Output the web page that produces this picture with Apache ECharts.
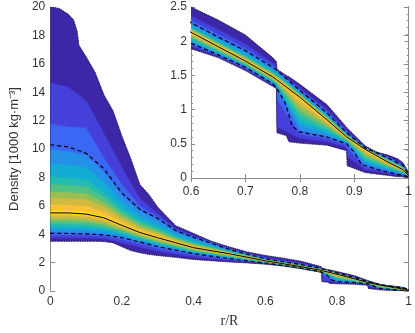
<!DOCTYPE html>
<html><head><meta charset="utf-8">
<script src="https://cdn.jsdelivr.net/npm/echarts@6/dist/echarts.min.js"></script>
<style>html,body{margin:0;padding:0;background:#fff}#c{width:415px;height:333px}</style>
</head><body><div id="c"></div>
<script>
// outer envelope of the density distribution (finer r/R grid)
const outerR = [0, 0.025, 0.05, 0.065, 0.075, 0.08, 0.1, 0.125, 0.15, 0.175, 0.2, 0.225, 0.25, 0.275, 0.3, 0.35, 0.4, 0.45, 0.5, 0.55, 0.6, 0.65, 0.7, 0.75, 0.757, 0.758, 0.775, 0.78, 0.8, 0.85, 0.886, 0.887, 0.92, 0.94, 0.96, 0.98, 0.99, 1.0];
const outerUpper = [20, 19.9, 19.5, 19.1, 18.3, 17.3, 16.5, 15.4, 13.8, 12.7, 10.9, 9.3, 7.5, 6.8, 5.9, 4.6, 4.05, 3.5, 3.1, 2.75, 2.5, 2.31, 2.09, 1.76, 1.70, 1.59, 1.50, 1.48, 1.37, 1.07, 0.74, 0.73, 0.47, 0.38, 0.34, 0.28, 0.22, 0.08];
const outerLower = [3.5, 3.5, 3.5, 3.5, 3.5, 3.5, 3.5, 3.5, 3.48, 3.4, 3.12, 2.85, 2.7, 2.58, 2.5, 2.37, 2.22, 2.13, 2.05, 1.98, 1.89, 1.76, 1.57, 1.34, 1.31, 0.66, 0.62, 0.53, 0.51, 0.48, 0.4, 0.18, 0.08, 0.06, 0.04, 0.02, 0.02, 0];

// r/R grid for the inner bands
const radius = [0, 0.05, 0.1, 0.15, 0.2, 0.25, 0.3, 0.35, 0.4, 0.5, 0.6, 0.65, 0.7, 0.75, 0.757, 0.758, 0.8, 0.85, 0.886, 0.887, 0.92, 0.96, 0.99, 1.0];

// upper boundaries of inner density bands (level 2 .. level 11)
const upper2  = [14.67, 14.36, 13.4, 11.1, 8.7, 6.54, 5.46, 4.41, 3.90, 3.0, 2.37, 2.17, 1.96, 1.68, 1.63, 1.58, 1.32, 1.0, 0.70, 0.686, 0.454, 0.318, 0.198, 0.064];
const upper3  = [11.76, 11.55, 11.5, 9.37, 7.5, 6.01, 5.22, 4.30, 3.82, 2.95, 2.305, 2.10, 1.895, 1.64, 1.60, 1.573, 1.29, 0.97, 0.67, 0.662, 0.445, 0.306, 0.186, 0.055];
const upper4  = [9.96, 9.82, 9.55, 8.36, 6.74, 5.64, 5.01, 4.19, 3.73, 2.90, 2.26, 2.05, 1.85, 1.61, 1.57, 1.56, 1.27, 0.94, 0.656, 0.646, 0.439, 0.296, 0.176, 0.049];
const upper5  = [8.96, 8.85, 8.7, 7.63, 6.26, 5.29, 4.72, 4.01, 3.58, 2.84, 2.23, 2.02, 1.82, 1.58, 1.54, 1.53, 1.25, 0.92, 0.643, 0.635, 0.434, 0.283, 0.163, 0.044];
const upper6  = [8.04, 7.96, 7.85, 6.98, 5.83, 4.98, 4.47, 3.85, 3.44, 2.78, 2.20, 1.99, 1.79, 1.55, 1.51, 1.51, 1.23, 0.90, 0.632, 0.624, 0.431, 0.272, 0.152, 0.041];
const upper7  = [7.52, 7.45, 7.35, 6.6, 5.58, 4.80, 4.32, 3.76, 3.36, 2.75, 2.19, 1.98, 1.77, 1.54, 1.50, 1.50, 1.22, 0.89, 0.625, 0.618, 0.428, 0.265, 0.145, 0.038];
const upper8  = [6.99, 6.94, 6.85, 6.22, 5.33, 4.63, 4.17, 3.66, 3.28, 2.71, 2.17, 1.96, 1.76, 1.52, 1.48, 1.48, 1.21, 0.88, 0.619, 0.612, 0.426, 0.259, 0.139, 0.036];
const upper9  = [6.56, 6.52, 6.45, 5.91, 5.12, 4.48, 4.05, 3.59, 3.21, 2.69, 2.16, 1.95, 1.74, 1.51, 1.47, 1.47, 1.20, 0.87, 0.613, 0.607, 0.424, 0.253, 0.133, 0.034];
const upper10 = [6.08, 6.06, 5.98, 5.56, 4.89, 4.32, 3.91, 3.50, 3.14, 2.66, 2.15, 1.94, 1.73, 1.50, 1.46, 1.456, 1.19, 0.86, 0.607, 0.602, 0.422, 0.247, 0.127, 0.032];
const upper11 = [5.64, 5.64, 5.56, 5.25, 4.69, 4.17, 3.79, 3.43, 3.07, 2.63, 2.134, 1.924, 1.715, 1.484, 1.444, 1.444, 1.183, 0.853, 0.602, 0.597, 0.421, 0.242, 0.122, 0.031];

// lower boundaries of inner density bands (level 2 .. level 11)
const lower2  = [3.75, 3.75, 3.73, 3.69, 3.40, 3.09, 2.79, 2.59, 2.39, 2.15, 1.93, 1.78, 1.59, 1.36, 1.32, 0.75, 0.58, 0.53, 0.445, 0.32, 0.125, 0.067, 0.034, 0.009];
const lower3  = [3.95, 3.94, 3.92, 3.86, 3.62, 3.32, 3.0, 2.77, 2.54, 2.23, 1.95, 1.79, 1.61, 1.37, 1.33, 1.15, 0.64, 0.58, 0.48, 0.44, 0.16, 0.088, 0.044, 0.016];
const lower4  = [4.15, 4.14, 4.10, 4.02, 3.80, 3.49, 3.16, 2.91, 2.66, 2.30, 1.98, 1.81, 1.625, 1.386, 1.346, 1.31, 0.70, 0.615, 0.506, 0.506, 0.194, 0.108, 0.054, 0.021];
const lower5  = [4.35, 4.34, 4.30, 4.19, 3.92, 3.58, 3.25, 2.98, 2.71, 2.35, 2.0, 1.82, 1.64, 1.40, 1.36, 1.33, 0.77, 0.65, 0.52, 0.519, 0.228, 0.128, 0.064, 0.022];
const lower6  = [4.55, 4.54, 4.50, 4.36, 4.05, 3.68, 3.33, 3.06, 2.77, 2.40, 2.02, 1.84, 1.65, 1.41, 1.374, 1.35, 0.84, 0.685, 0.534, 0.532, 0.262, 0.148, 0.074, 0.023];
const lower7  = [4.75, 4.75, 4.69, 4.53, 4.17, 3.77, 3.42, 3.13, 2.83, 2.44, 2.05, 1.86, 1.66, 1.43, 1.388, 1.37, 0.92, 0.72, 0.548, 0.546, 0.295, 0.167, 0.084, 0.025];
const lower8  = [4.95, 4.95, 4.89, 4.69, 4.29, 3.87, 3.51, 3.20, 2.89, 2.49, 2.07, 1.87, 1.68, 1.44, 1.40, 1.39, 0.99, 0.755, 0.562, 0.559, 0.329, 0.187, 0.093, 0.026];
const lower9  = [5.15, 5.15, 5.08, 4.86, 4.41, 3.96, 3.60, 3.28, 2.95, 2.54, 2.09, 1.89, 1.69, 1.46, 1.416, 1.41, 1.06, 0.79, 0.576, 0.572, 0.362, 0.206, 0.103, 0.028];
const lower10 = [5.33, 5.33, 5.25, 5.01, 4.52, 4.04, 3.67, 3.34, 3.0, 2.58, 2.11, 1.91, 1.70, 1.47, 1.428, 1.42, 1.12, 0.82, 0.588, 0.584, 0.391, 0.223, 0.112, 0.029];
const lower11 = [5.45, 5.45, 5.37, 5.11, 4.59, 4.10, 3.73, 3.38, 3.04, 2.61, 2.12, 1.92, 1.707, 1.476, 1.437, 1.435, 1.16, 0.84, 0.597, 0.592, 0.412, 0.235, 0.118, 0.03];

// median (solid) and dashed bounds
const median = [5.5, 5.5, 5.42, 5.15, 4.62, 4.12, 3.75, 3.4, 3.05, 2.62, 2.13, 1.92, 1.71, 1.48, 1.44, 1.44, 1.18, 0.85, 0.6, 0.595, 0.42, 0.24, 0.12, 0.03];
const dashedUpper = [10.3, 10.15, 9.7, 8.6, 6.9, 5.75, 5.1, 4.25, 3.78, 2.92, 2.27, 2.06, 1.86, 1.62, 1.58, 1.57, 1.28, 0.95, 0.66, 0.65, 0.44, 0.30, 0.18, 0.05];
const dashedLowerR = [0, 0.05, 0.1, 0.15, 0.2, 0.25, 0.3, 0.35, 0.4, 0.5, 0.6, 0.65, 0.7, 0.75, 0.757, 0.772, 0.78, 0.786, 0.8, 0.85, 0.886, 0.9, 0.913, 0.944, 0.975, 1.0];
const dashedLower = [4.06, 4.05, 4.02, 3.95, 3.75, 3.45, 3.12, 2.88, 2.63, 2.28, 1.97, 1.8, 1.62, 1.38, 1.32, 1.12, 0.92, 0.76, 0.67, 0.6, 0.5, 0.38, 0.2, 0.12, 0.06, 0.02];

const bandXs = [outerR].concat(Array(10).fill(radius));
const bandUppers = [outerUpper, upper2, upper3, upper4, upper5, upper6, upper7, upper8, upper9, upper10, upper11];
const bandLowers = [outerLower, lower2, lower3, lower4, lower5, lower6, lower7, lower8, lower9, lower10, lower11];
const levelColors = ['#3e26a8','#4640da','#3a68f5','#2590e8','#13acd3','#22bcb0','#52c184','#97bf55','#d0ba40','#fbc136','#f6e41d'];

function pairs(xs, ys) { return xs.map((x, i) => [x, ys[i]]); }

function bandRender(params, api) {
  const k = params.dataIndex;
  const outline = k === bandUppers.length;
  const xs = outline ? outerR : bandXs[k];
  const up = outline ? outerUpper : bandUppers[k];
  const lo = outline ? outerLower : bandLowers[k];
  const pts = [];
  for (let i = 0; i < xs.length; i++) pts.push(api.coord([xs[i], up[i]]));
  for (let i = xs.length - 1; i >= 0; i--) pts.push(api.coord([xs[i], lo[i]]));
  const cs = params.coordSys;
  return {
    type: 'polygon',
    shape: { points: pts },
    style: outline ? { fill: null, stroke: '#111', lineWidth: 0.9, lineDash: [1, 1.3] }
                   : { fill: levelColors[k], stroke: levelColors[k], lineWidth: 0.4 },
    clipPath: { type: 'rect', shape: { x: cs.x, y: cs.y, width: cs.width, height: cs.height } }
  };
}

function seriesFor(xi, yi) {
  const levelIdx = bandUppers.map((_, i) => i).concat([bandUppers.length]);
  return [
    { type: 'custom', xAxisIndex: xi, yAxisIndex: yi, renderItem: bandRender, data: levelIdx, silent: true, z: 1 },
    { type: 'line', xAxisIndex: xi, yAxisIndex: yi, data: pairs(radius, dashedUpper), showSymbol: false, clip: true,
      lineStyle: { color: '#000', width: 1.2, type: [4, 3] }, z: 3 },
    { type: 'line', xAxisIndex: xi, yAxisIndex: yi, data: pairs(dashedLowerR, dashedLower), showSymbol: false, clip: true,
      lineStyle: { color: '#000', width: 1.2, type: [4, 3] }, z: 3 },
    { type: 'line', xAxisIndex: xi, yAxisIndex: yi, data: pairs(radius, median), showSymbol: false, clip: true,
      lineStyle: { color: '#000', width: 1 }, z: 4 }
  ];
}

const axisGray = '#8c8c8c';
const labelStyle = { color: '#333', fontSize: 12, fontFamily: 'Liberation Sans, Arial, sans-serif' };

const chart = echarts.init(document.getElementById('c'), null, { renderer: 'canvas' });
chart.setOption({
  animation: false,
  backgroundColor: '#fff',
  grid: [
    { left: 44, right: 4, top: 7, bottom: 37 },
    { left: 191, right: 4, top: 7, bottom: 155 }
  ],
  xAxis: [
    { gridIndex: 0, type: 'value', min: 0, max: 1, interval: 0.2,
      axisLine: { show: false }, axisTick: { show: false }, splitLine: { show: false },
      axisLabel: Object.assign({ margin: 5 }, labelStyle),
      name: 'r/R', nameLocation: 'middle', nameGap: 23,
      nameTextStyle: { color: '#333', fontSize: 14, fontFamily: 'Liberation Serif, Times New Roman, serif' } },
    { gridIndex: 1, type: 'value', min: 0.6, max: 1, interval: 0.1,
      axisLine: { show: true, lineStyle: { color: axisGray, width: 1 } },
      axisTick: { show: true, inside: true, length: 4, lineStyle: { color: axisGray } },
      splitLine: { show: false },
      axisLabel: Object.assign({ margin: 8 }, labelStyle) },
    { gridIndex: 1, type: 'value', position: 'top', min: 0.6, max: 1, interval: 0.1,
      axisLine: { show: false },
      axisTick: { show: true, inside: true, length: 4, lineStyle: { color: axisGray } },
      splitLine: { show: false }, axisLabel: { show: false } }
  ],
  yAxis: [
    { gridIndex: 0, type: 'value', min: 0, max: 20, interval: 2,
      axisLine: { show: true, lineStyle: { color: axisGray, width: 1 } },
      axisTick: { show: true, inside: true, length: 5, lineStyle: { color: axisGray } },
      splitLine: { show: false },
      axisLabel: Object.assign({ margin: 5 }, labelStyle),
      name: 'Density [1000 kg·m⁻³]', nameLocation: 'middle', nameRotate: 90, nameGap: 16,
      nameTextStyle: { color: '#333', fontSize: 13, fontFamily: 'Liberation Sans, Arial, sans-serif' } },
    { gridIndex: 0, type: 'value', position: 'right', min: 0, max: 20, interval: 2,
      axisLine: { show: true, lineStyle: { color: axisGray, width: 1 } },
      axisTick: { show: true, inside: true, length: 5, lineStyle: { color: axisGray } },
      splitLine: { show: false }, axisLabel: { show: false } },
    { gridIndex: 1, type: 'value', min: 0, max: 2.5, interval: 0.5,
      axisLine: { show: true, lineStyle: { color: axisGray, width: 1 } },
      axisTick: { show: true, inside: true, length: 4, lineStyle: { color: axisGray } },
      minorTick: { show: true, splitNumber: 5, length: 2, lineStyle: { color: axisGray } },
      splitLine: { show: false },
      axisLabel: Object.assign({ margin: 4 }, labelStyle) },
    { gridIndex: 1, type: 'value', position: 'right', min: 0, max: 2.5, interval: 0.5,
      axisLine: { show: true, lineStyle: { color: axisGray, width: 1 } },
      axisTick: { show: true, inside: true, length: 4, lineStyle: { color: axisGray } },
      minorTick: { show: true, splitNumber: 5, length: 2, lineStyle: { color: axisGray } },
      splitLine: { show: false }, axisLabel: { show: false } }
  ],
  series: seriesFor(0, 0).concat(seriesFor(1, 2))
});
</script>
</body></html>
